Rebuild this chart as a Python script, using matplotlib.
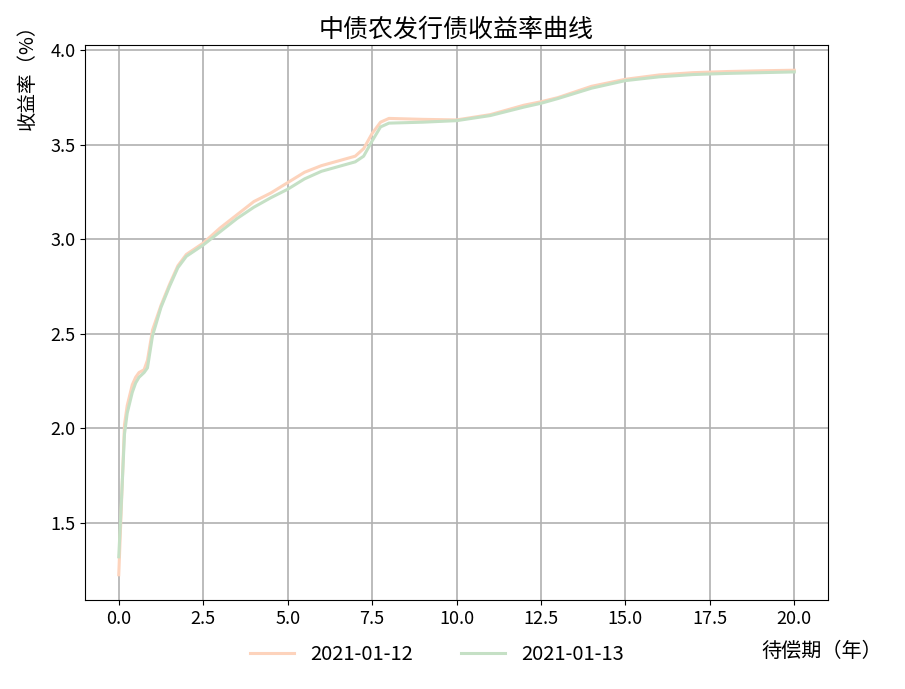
import matplotlib
matplotlib.use('Agg')
from matplotlib import pyplot as plt

plt.rcParams['font.family'] = ['Noto Sans CJK SC', 'DejaVu Sans']
plt.rcParams['font.weight'] = 'light'
plt.rcParams['axes.unicode_minus'] = False

# 待偿期（年）
maturity = [0, 0.08, 0.17, 0.25, 0.4, 0.5, 0.6, 0.75, 0.85, 1.0, 1.25, 1.5, 1.75, 2.0,
            2.5, 3, 3.5, 4, 4.5, 5, 5.5, 6, 6.5, 7, 7.25, 7.5, 7.75, 8, 9, 10, 11, 12,
            12.5, 13, 14, 15, 16, 17, 18, 19, 20]

# 收益率（%）
yield_0112 = [1.225, 1.60, 2.02, 2.12, 2.23, 2.27, 2.295, 2.31, 2.36, 2.52, 2.65, 2.76,
              2.86, 2.92, 2.98, 3.06, 3.13, 3.20, 3.245, 3.30, 3.355, 3.39, 3.415, 3.44,
              3.48, 3.56, 3.62, 3.64, 3.635, 3.632, 3.66, 3.71, 3.728, 3.75, 3.81, 3.847,
              3.87, 3.882, 3.888, 3.892, 3.895]
yield_0113 = [1.32, 1.62, 1.97, 2.08, 2.19, 2.24, 2.27, 2.295, 2.32, 2.49, 2.64, 2.75,
              2.85, 2.91, 2.97, 3.04, 3.11, 3.17, 3.22, 3.265, 3.32, 3.36, 3.385, 3.41,
              3.44, 3.52, 3.595, 3.615, 3.62, 3.628, 3.655, 3.70, 3.72, 3.745, 3.80, 3.84,
              3.86, 3.872, 3.878, 3.882, 3.886]

dates = ['2021-01-12', '2021-01-13']
colors = ['#fdd3bc', '#c5e0c5']

fig = plt.figure(figsize=(9.05, 6.89), dpi=100)
ax = fig.add_axes([0.0939, 0.1292, 0.8211, 0.8055])

ax.plot(maturity, yield_0112, color=colors[0], lw=2.2, label=dates[0])
ax.plot(maturity, yield_0113, color=colors[1], lw=2.2, label=dates[1])

ax.grid(True, color='#b0b0b0', lw=1.2)
ax.tick_params(labelsize=13)
ax.set_title('中债农发行债收益率曲线', fontsize=18, pad=6)

fig.text(27 / 905, 1 - 72 / 689, '收益率（%）', rotation=90, ha='center', va='center', fontsize=14)
fig.text(822 / 905, 1 - 651 / 689, '待偿期（年）', ha='center', va='center', fontsize=14.5)

fig.legend(loc='center', bbox_to_anchor=(437 / 905, 1 - 655 / 689), ncol=2,
           frameon=False, fontsize=14.5, handlelength=2.2, columnspacing=2.4)

fig.savefig('out.png', dpi=100)
